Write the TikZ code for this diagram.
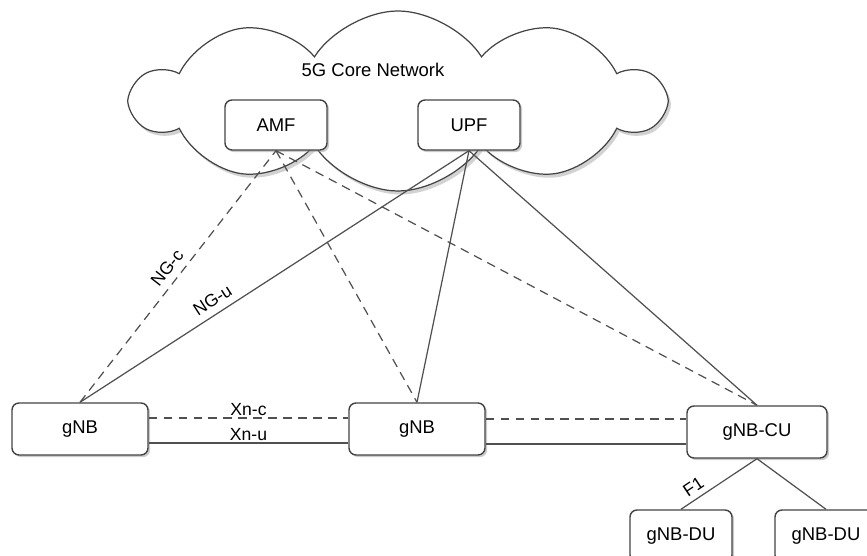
\documentclass[tikz,border=0pt]{standalone}
\usepackage{fontspec}
\setmainfont{Liberation Sans}
\usetikzlibrary{positioning, shapes.symbols, shadows, calc}
\definecolor{LineGray}{HTML}{505050}
\definecolor{EdgeGray}{HTML}{444444}

\begin{document}
\begin{tikzpicture}[
  box/.style={rounded corners=4pt, draw=EdgeGray, line width=0.8pt, fill=white,
              minimum width=2.04cm, minimum height=1.0cm, font=\fontsize{10.5}{12}\selectfont,
              drop shadow={shadow xshift=1.2pt, shadow yshift=-1.2pt, fill=black!40}},
  core/.style={cloud, cloud puffs=10, cloud puff arc=115, cloud ignores aspect,
               draw=EdgeGray, line width=0.7pt, fill=white,
               minimum width=10.6cm, minimum height=3.6cm,
               drop shadow={shadow xshift=1.5pt, shadow yshift=-2pt, fill=black!35}},
  ctrl/.style={dash pattern=on 5pt off 3.5pt, LineGray, line width=0.7pt},
  usr/.style={LineGray, line width=0.7pt},
  lbl/.style={font=\fontsize{10}{12}\selectfont, text=black, inner sep=4pt},
]
  \useasboundingbox (0,0) rectangle (17.34,11.12);

  % core network
  \node[core] (cloud) at (7.96,9.1) {};
  \node[font=\fontsize{10.5}{12}\selectfont] (title) at (7.46,9.72) {5G Core Network};
  \node[box] (amf) at (5.52,8.62) {AMF};
  \node[box] (upf) at (9.38,8.62) {UPF};

  % radio access
  \node[box, minimum width=2.72cm, minimum height=1.04cm] (gnba) at (1.6,2.54) {gNB};
  \node[box, minimum width=2.72cm, minimum height=1.04cm] (gnbb) at (8.34,2.54) {gNB};
  \node[box, minimum width=2.8cm, minimum height=1.04cm] (cu) at (15.14,2.48) {gNB-CU};
  \node[box, minimum height=1.04cm] (dua) at (13.62,0.4) {gNB-DU};
  \node[box, minimum height=1.04cm] (dub) at (16.52,0.4) {gNB-DU};

  % NG interfaces
  \draw[ctrl] (gnba.north) -- (amf.south) node[lbl, midway, above, sloped] {NG-c};
  \draw[usr]  (gnba.north) -- (upf.south) node[lbl, pos=0.36, above, sloped] {NG-u};
  \draw[ctrl] (amf.south) -- (gnbb.north);
  \draw[usr]  (upf.south) -- (gnbb.north);
  \draw[ctrl] (amf.south) -- (cu.north);
  \draw[usr]  (upf.south) -- (cu.north);

  % Xn interfaces
  \draw[ctrl] ([yshift=0.22cm]gnba.east) -- ([yshift=0.22cm]gnbb.west) node[lbl, midway, above, inner sep=1pt] {Xn-c};
  \draw[usr]  ([yshift=-0.28cm]gnba.east) -- ([yshift=-0.28cm]gnbb.west) node[lbl, midway, above, inner sep=1pt] {Xn-u};
  \draw[ctrl] ([yshift=0.2cm]gnbb.east) -- ([yshift=0.2cm]gnbb.east -| cu.west);
  \draw[usr]  ([yshift=-0.3cm]gnbb.east) -- ([yshift=-0.3cm]gnbb.east -| cu.west);

  % F1
  \draw[usr] (dua.north) -- (cu.south) node[lbl, pos=0.25, above, sloped, inner sep=3pt] {F1};
  \draw[usr] (cu.south) -- (dub.north);
\end{tikzpicture}
\end{document}
